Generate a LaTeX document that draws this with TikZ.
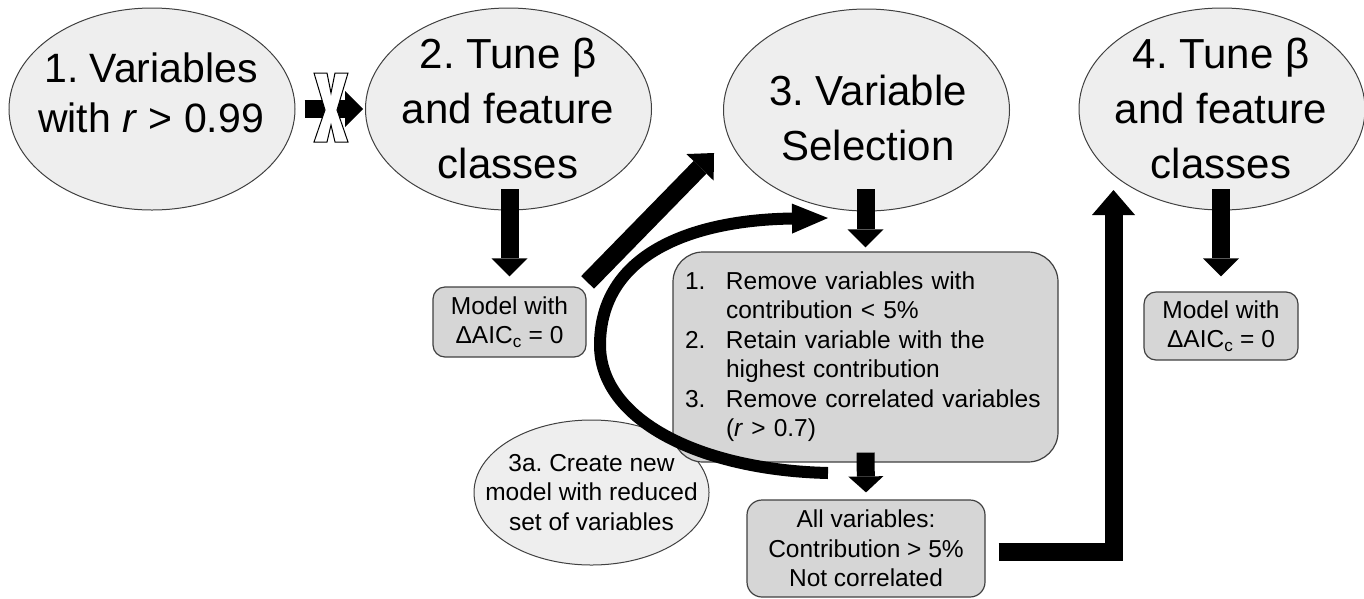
\documentclass[tikz,border=0pt]{standalone}
\usepackage{fontspec}
\setmainfont{Liberation Sans}
\usetikzlibrary{arrows.meta,shapes.geometric}
\definecolor{ellfill}{RGB}{238,238,238}
\definecolor{boxfill}{RGB}{214,214,214}
\definecolor{edge}{RGB}{64,64,64}
\frenchspacing
\begin{document}
\begin{tikzpicture}[x=1pt,y=-1pt,
  ell/.style={draw=edge, line width=1pt, fill=ellfill, ellipse, inner sep=0pt,
    minimum width=286pt, minimum height=202pt},
  big/.style={font=\fontsize{42}{55}\selectfont, align=center, inner sep=0pt},
  small/.style={font=\fontsize{24.5}{29.5}\selectfont, align=center, inner sep=0pt},
  box/.style={draw=edge, line width=1.2pt, fill=boxfill, rounded corners=12pt,
    inner sep=0pt, align=center, font=\fontsize{24.5}{29.5}\selectfont},
  blk/.style={line width=18pt, -{Triangle[length=18pt,width=36pt,line width=0pt]}},
  curv/.style={line width=12pt, -{Triangle[length=36pt,width=30pt,line width=0pt]}}
]
\useasboundingbox (0,0) rectangle (1364,598);
% ellipses
\node[ell] (e1) at (152,109) {};
\node[ell] (e2) at (508.5,109) {};
\node[ell] (e3) at (866.5,110) {};
\node[ell] (e4) at (1222,109) {};
\node[ell, minimum width=235pt, minimum height=145pt] (e5) at (591.5,492.5) {};
% ellipse texts
\node[big, font=\fontsize{41}{50}\selectfont] (t1) at (151,92.5) {1. Variables\\with \textit{r} > 0.99};
\node[big] (t2) at (508,108) {2. Tune β\\and feature\\classes};
\node[big] (t3) at (868,118) {3. Variable\\Selection};
\node[big] (t4) at (1221,108) {4. Tune β\\and feature\\classes};
\node[small] (t5) at (591.5,492.5) {3a. Create new\\model with reduced\\set of variables};
% boxes
\node[box, minimum width=153pt, minimum height=70pt] (m2) at (509.5,322) {Model with\\ΔAIC\textsubscript{c} = 0};
\node[box, minimum width=154pt, minimum height=68pt] (m4) at (1221,326) {Model with\\ΔAIC\textsubscript{c} = 0};
\node[box, rounded corners=30pt, minimum width=385pt, minimum height=210pt,
  text width=361pt, align=left] (list) at (865.5,357)
  {\begin{tabular}{@{}p{41pt}@{}l@{}}
   1. & Remove variables with\\
      & contribution < 5\%\\
   2. & Retain variable with the\\
      & highest contribution\\
   3. & Remove correlated variables\\
      & (\textit{r} > 0.7)
   \end{tabular}};
\node[box, rounded corners=15pt, minimum width=238pt, minimum height=97pt] (all) at (866,548.5)
  {All variables:\\Contribution > 5\%\\Not correlated};
% free ends
\coordinate (up4) at (1113.5,190);
\coordinate (cs) at (828,473);
\coordinate (ce) at (828,218);
% connectors
\draw[blk] ([xshift=9pt]e1.east) -- ([xshift=-2pt]e2.west);
\draw[fill=white, line width=1pt] (314,73) -- (327,73) -- (331,93) -- (335,73) -- (348,73)
  -- (337,110) -- (348,142) -- (335,142) -- (331,125) -- (327,142) -- (314,142) -- (325,110) -- cycle;
\draw[blk] ([yshift=97pt]m2.north) -- ([yshift=10pt]m2.north);
\draw[blk, -{Triangle[length=20pt,width=38pt,line width=0pt]}]
  ([xshift=1pt,yshift=4pt]m2.north east) -- ([xshift=-9pt,yshift=-43pt]e3.west);
\draw[blk] ([yshift=62pt]list.north) -- ([yshift=4pt]list.north);
\draw[blk, -{Triangle[length=16pt,width=35pt,line width=0pt]}] ([yshift=10pt]list.south) -- ([yshift=7pt]all.north);
\draw[blk, -{Triangle[length=25pt,width=43pt,line width=0pt]}] ([xshift=13pt,yshift=-3pt]all.east) -| (up4);
\draw[blk] ([yshift=102pt]m4.north) -- ([yshift=15pt]m4.north);
\draw[curv] (cs) .. controls (700,470) and (600,420) .. (600,345)
  .. controls (600,255) and (690,220) .. (ce);
\end{tikzpicture}
\end{document}
